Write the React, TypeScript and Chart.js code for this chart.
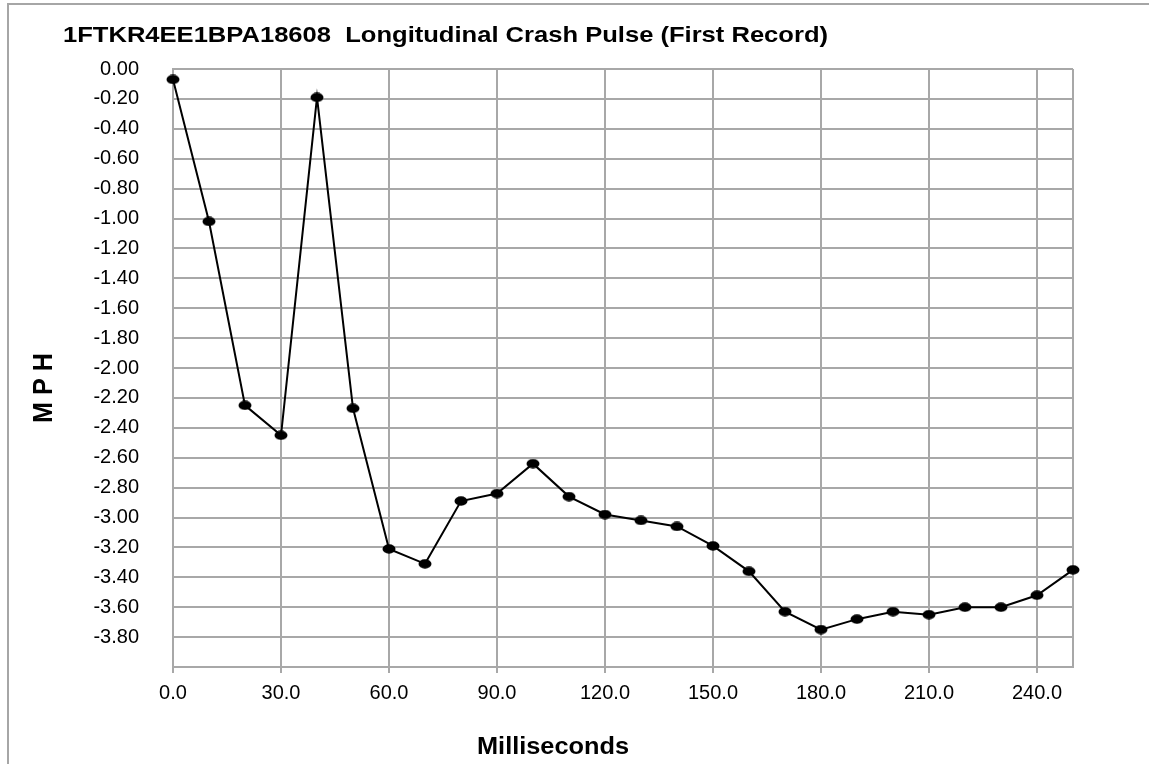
import React, { useEffect, useRef } from "react";
import { Chart, registerables } from "chart.js";

Chart.register(...registerables);

// ---- data ----
const timeMs = [0, 10, 20, 30, 40, 50, 60, 70, 80, 90, 100, 110, 120, 130, 140, 150, 160, 170, 180, 190, 200, 210, 220, 230, 240, 250];
const mphValues = [-0.07, -1.02, -2.25, -2.45, -0.19, -2.27, -3.21, -3.31, -2.89, -2.84, -2.64, -2.86, -2.98, -3.02, -3.06, -3.19, -3.36, -3.63, -3.75, -3.68, -3.63, -3.65, -3.6, -3.6, -3.52, -3.35];
const xTickValues = [0, 30, 60, 90, 120, 150, 180, 210, 240];
const xAxisMax = 250;
const yAxisMin = -4;
const yAxisMax = 0;
const yTickStep = 0.2;

const chartTitle = "1FTKR4EE1BPA18608  Longitudinal Crash Pulse (First Record)";
const xAxisTitle = "Milliseconds";
const yAxisTitle = "M P H";

const FONT = '"Liberation Sans", Arial, Helvetica, sans-serif';
const GRID = "#a8a8a8";

function makeMarker(): HTMLCanvasElement {
  const c = document.createElement("canvas");
  c.width = 14;
  c.height = 10;
  const g = c.getContext("2d")!;
  g.fillStyle = "#000";
  g.beginPath();
  g.ellipse(7, 5, 6.5, 4.7, 0, 0, Math.PI * 2);
  g.fill();
  return c;
}

const titlesPlugin = {
  id: "excelTitles",
  afterDraw(chart: any) {
    const ctx: CanvasRenderingContext2D = chart.ctx;
    ctx.save();
    ctx.fillStyle = "#000";
    ctx.textBaseline = "alphabetic";
    ctx.textAlign = "left";

    // chart title
    ctx.font = `bold 22px ${FONT}`;
    let w = ctx.measureText(chartTitle).width;
    ctx.save();
    ctx.translate(63, 42);
    ctx.scale(765 / w, 1);
    ctx.fillText(chartTitle, 0, 0);
    ctx.restore();

    // x axis title
    ctx.font = `bold 23.5px ${FONT}`;
    w = ctx.measureText(xAxisTitle).width;
    ctx.save();
    ctx.translate(477, 754);
    ctx.scale(152 / w, 1);
    ctx.fillText(xAxisTitle, 0, 0);
    ctx.restore();

    // y axis title
    ctx.font = `bold 25px ${FONT}`;
    w = ctx.measureText(yAxisTitle).width;
    ctx.save();
    ctx.translate(51.5, 423);
    ctx.rotate(-Math.PI / 2);
    ctx.scale(70 / w, 1.1);
    ctx.fillText(yAxisTitle, 0, 0);
    ctx.restore();

    ctx.restore();
  },
};

export default function App() {
  const canvasRef = useRef<HTMLCanvasElement | null>(null);

  useEffect(() => {
    if (!canvasRef.current) return;
    const marker = makeMarker();
    const chart = new Chart(canvasRef.current, {
      type: "line",
      data: {
        datasets: [
          {
            label: "MPH",
            data: timeMs.map((t, i) => ({ x: t, y: mphValues[i] })),
            borderColor: "#000",
            backgroundColor: "#000",
            borderWidth: 2,
            tension: 0,
            pointStyle: marker as any,
            pointRadius: 6,
            clip: false as any,
          },
        ],
      },
      options: {
        responsive: false,
        animation: false,
        devicePixelRatio: 1,
        layout: { padding: { top: 69, right: 76, bottom: 0, left: 0 } },
        plugins: {
          legend: { display: false },
          tooltip: { enabled: false },
          title: { display: false },
        },
        scales: {
          x: {
            type: "linear",
            min: 0,
            max: xAxisMax,
            afterBuildTicks: (scale: any) => {
              scale.ticks = [...xTickValues, xAxisMax].map((v) => ({ value: v }));
            },
            afterFit: (scale: any) => {
              scale.height = 97;
            },
            ticks: {
              autoSkip: false,
              maxRotation: 0,
              padding: 8,
              color: "#000",
              font: { family: FONT, size: 20 },
              callback: (v: any) => (Number(v) === xAxisMax ? "" : Number(v).toFixed(1)),
            },
            grid: {
              color: GRID,
              lineWidth: 2,
              drawTicks: true,
              tickLength: 6,
              tickColor: (c: any) => (c.tick && c.tick.value === xAxisMax ? "rgba(0,0,0,0)" : GRID),
            },
            border: { color: GRID, width: 2 },
          },
          y: {
            type: "linear",
            min: yAxisMin,
            max: yAxisMax,
            afterFit: (scale: any) => {
              scale.width = 173;
            },
            ticks: {
              stepSize: yTickStep,
              padding: 34,
              color: "#000",
              font: { family: FONT, size: 20 },
              callback: (v: any) => (Number(v) <= yAxisMin + 0.01 ? "" : Number(v).toFixed(2)),
            },
            grid: { color: GRID, lineWidth: 2, drawTicks: false },
            border: { color: GRID, width: 2 },
          },
        },
      },
      plugins: [titlesPlugin],
    });
    return () => chart.destroy();
  }, []);

  return (
    <>
      <div
        style={{
          position: "fixed",
          left: 7,
          top: 3,
          width: 1142,
          height: 761,
          boxSizing: "border-box",
          borderTop: "2px solid #a6a6a6",
          borderLeft: "2px solid #a6a6a6",
          background: "#fff",
        }}
      />
      <canvas
        ref={canvasRef}
        width={1149}
        height={764}
        style={{ position: "fixed", left: 0, top: 0, width: 1149, height: 764 }}
      />
    </>
  );
}
